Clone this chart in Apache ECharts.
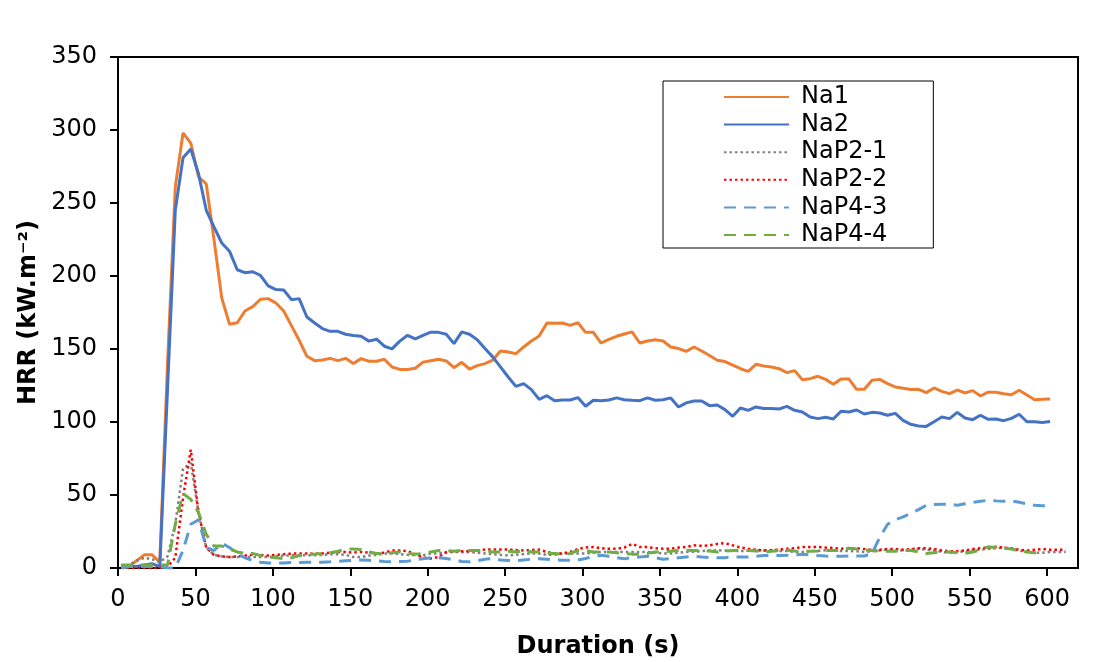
<!DOCTYPE html>
<html>
<head>
<meta charset="utf-8">
<script src="https://cdn.jsdelivr.net/npm/echarts@6/dist/echarts.min.js"></script>
<style>
  html, body { margin: 0; padding: 0; background: #fff; }
  #chart { width: 1107px; height: 662px; }
</style>
</head>
<body>
<div id="chart"></div>
<script>
// Sampling of the recorded curves: first sample at 2 s, then every 5 s
const T0 = 2, DT = 5;

const xTicks = [0, 50, 100, 150, 200, 250, 300, 350, 400, 450, 500, 550, 600];

const seriesNames = ['Na1', 'Na2', 'NaP2-1', 'NaP2-2', 'NaP4-3', 'NaP4-4'];

const na1 = [0,1,5,9,9,4,140,261,298,291,
  268,263,225,185,167,168,176,179,184,184.5,
  181.5,176,166,156,145,142,142.5,143.6,142,143.6,
  140,143.4,141.6,141.6,143,137.7,136,136,136.8,141,
  142,143,141.8,137.2,140.9,136.3,138.6,140,142.3,148.6,
  147.9,146.8,151.4,155.5,158.9,167.8,167.6,167.8,166.2,168,
  161.4,161.4,154.1,156.6,158.7,160.3,161.7,154.1,155.5,156.4,
  155.5,151.4,150.3,148.4,151.4,148.6,145.5,142.3,141.4,138.9,
  136.5,134.7,139.5,138.4,137.7,136.5,133.8,135.2,129,129.7,
  131.3,129.2,125.8,129.5,129.5,122.4,122.4,128.6,129.2,126.3,
  124,123.1,122.2,122.4,120.1,123.3,121,119.4,121.9,119.9,
  121.5,117.8,120.4,120.4,119.4,118.7,121.7,118.5,115.3,115.5,
  115.8];

const na2 = [1,1,1,2,3,1,123,245,281,287,
  270,245,233.6,222.6,217,204.3,202.3,202.9,200.4,193.2,
  190.7,190.4,183.8,184.5,171.9,167.8,164,162.1,162.1,160.1,
  159.2,158.7,155.4,156.7,151.9,150.1,155.4,159.4,156.9,159.4,
  161.5,161.4,160.1,153.7,161.7,160.1,156.4,150.3,144.6,137.7,
  130.8,124.4,126.3,122.2,115.5,118,114.6,115.1,115.1,116.7,
  110.8,114.9,114.6,115.1,116.5,115.3,114.9,114.6,116.5,114.9,
  115.3,116.5,110.3,113.1,114.4,114.4,111.2,111.6,108.5,103.9,
  109.6,108,110.3,109.2,109.2,108.9,110.7,108,106.9,103.4,
  102.3,103.2,102.1,107.4,106.9,108.2,105.5,106.6,106.2,104.6,
  105.9,101.1,98.4,97.3,97,100.2,103.4,102.3,106.6,102.7,
  101.6,104.6,101.8,102.1,100.9,102.5,105.3,100.2,100.2,99.7,
  100.4];

const nap21 = [1,2,5,7,6,4,8,30,68,72,
  38,14,9,8,7.5,7.5,7.5,7.5,7.5,7.5,
  8,8.5,8.7,8.7,8.7,8.7,9,9.5,9.5,9,
  7.5,7.5,8.5,9,9.9,9.9,9.5,9,8.7,8.7,
  9.9,10,10.5,11,11,11,10.5,10,9.5,9,
  8.7,9,9.5,10,9.9,9,9,10,9.9,9.9,
  10,10.5,11,11,11,11,11,11,11,10.5,
  10,9.9,10.5,11,11.2,11.6,12,12.1,12,11.6,
  11.6,11.8,12.1,12,11.6,11.6,11.6,11,11,11.6,
  11.6,12.1,12,11.6,11.6,11.5,11,11.5,12,12.5,
  12,12,12.5,13,12.5,12,11,10.5,11,11.5,
  12,12.5,13,13.5,14,13,12,11,10.5,10.5,
  11,11,11];

const nap22 = [0,0,0,0,0,0,1,7,48,81,
  38,14,9,8,7.5,8,8.5,9,9,8.5,
  9,9.5,9.8,10,10,9.8,10,10.5,11,11,
  10.5,11,10.5,10,10.5,12,12,11.5,9.5,7,
  6.5,7.5,11,11.5,11.5,11.5,12,12.6,12.6,12.6,
  12.6,12.3,12,12.3,12.6,11,10,9.9,11,13,
  14,14.4,13.5,13.2,13.2,14,16.5,14.4,14.4,13.5,
  13.2,13.2,14,14.4,15.5,15.2,15.5,16.5,17,15.5,
  14,13.2,12.5,12,12.3,12.6,13.2,13.5,14.4,14.4,
  14.4,14,13.7,13.2,13.5,13.5,13,12.5,12.5,13,
  13,12.5,13,13.5,13.5,13,12,11.5,11.5,12,
  13,13.5,14,14.5,14,13.5,12.5,12,12.5,13,
  12.5,12.5,12.5];

const nap43 = [0,1,1,1,1,1,0,0,12,30,
  33,14,12,17,14,10,7,5,4,3.5,
  3.5,3.5,3.7,3.8,4,4,4,4.2,4.5,4.9,
  5.3,5.5,5.3,5,4.5,4.2,4.5,4.7,5.5,6.4,
  7,7,6.5,5.5,4.5,4.2,5,6,6.4,5.5,
  5.2,5,5.5,6,6.4,6,5.5,5.3,5.3,5.5,
  6.5,8,8.7,8,7,6.4,7,7.5,8,7,
  6,6.4,7,7.5,8,7.5,7.1,7.1,7.1,7.5,
  7.5,7.5,8,8.5,8.5,8.5,8.7,9,9.4,9,
  8.5,8.2,8,8,8.2,8.2,8.2,10,21,30,
  33,35,37.5,40,42.9,43.5,43.6,43.6,43,44,
  45,45.7,46.4,46,45.7,46,45,44,43,42.7,
  42.7];

const nap44 = [2,2,2,2,2,2,2,30,51,47,
  38,23,15,15,13,11,10,10,8.5,7.5,
  7,6.4,7,8.5,9,9.5,10,10.5,11.5,13,
  13,12.6,11,9.9,10,10.5,11,10,9.5,10,
  11,12,12,11.5,12,12,12,12,11,11,
  11.5,11,12,11,11,10,9.9,9.5,10,12,
  12,11,11,11,10.5,10,9.5,9.5,10,11,
  11,11.5,12,12.1,12,11.6,11.6,11,11.6,12,
  12.1,12,11.6,11,11.5,12,12.1,11.6,11.5,11.5,
  11.6,12,12.1,12,13.5,13,12.5,12,11.4,11.4,
  11.5,12,12,11,10,10.5,11,11,10.5,10,
  11,12.5,14.5,14,13.5,13,12,11,10.5,10.5];

function pairs(vals) {
  return vals.map((v, i) => [T0 + DT * i, v]);
}

const FONT = 'DejaVu Sans';

const styles = [
  { color: '#ED7D31', width: 3, type: 'solid' },
  { color: '#4472C4', width: 3, type: 'solid' },
  { color: '#808080', width: 2.5, type: [2.5, 3] },
  { color: '#FF0000', width: 2.5, type: [2.5, 3] },
  { color: '#5B9BD5', width: 3, type: [12, 8] },
  { color: '#70AD47', width: 3, type: [12, 8] }
];
const allData = [na1, na2, nap21, nap22, nap43, nap44];

const chart = echarts.init(document.getElementById('chart'), null, { renderer: 'canvas' });

chart.setOption({
  animation: false,
  backgroundColor: '#ffffff',
  grid: {
    left: 118, right: 29, top: 57, bottom: 94,
    containLabel: false,
    outerBoundsMode: 'none',
    show: true, borderColor: '#000', borderWidth: 2, backgroundColor: 'transparent'
  },
  legend: {
    orient: 'vertical',
    left: 663, top: 81,
    width: 272,
    padding: [4, 46, 1, 60],
    itemWidth: 65,
    itemHeight: 14,
    itemGap: 3.6,
    borderColor: '#000',
    borderWidth: 1,
    backgroundColor: '#fff',
    itemStyle: { opacity: 0 },
    data: seriesNames,
    textStyle: { fontFamily: FONT, fontSize: 24, lineHeight: 24, color: '#000', padding: [0, 0, 0, 7] }
  },
  xAxis: {
    type: 'value',
    min: 0, max: 620, interval: 50,
    name: 'Duration (s)',
    nameLocation: 'middle',
    nameGap: 67,
    nameTextStyle: { fontFamily: FONT, fontSize: 24, fontWeight: 'bold', color: '#000' },
    axisLine: { show: true, lineStyle: { color: '#000', width: 2 } },
    axisTick: { show: true, length: 8, lineStyle: { color: '#000', width: 2 }, customValues: xTicks },
    axisLabel: { fontFamily: FONT, fontSize: 24, color: '#000', margin: 20, customValues: xTicks },
    splitLine: { show: false }
  },
  yAxis: {
    type: 'value',
    min: 0, max: 350, interval: 50,
    name: 'HRR (kW.m\u207B\u00B2)',
    nameLocation: 'middle',
    nameGap: 76,
    nameTextStyle: { fontFamily: FONT, fontSize: 24, fontWeight: 'bold', color: '#000' },
    axisLine: { show: true, lineStyle: { color: '#000', width: 2 } },
    axisTick: { show: true, length: 8, lineStyle: { color: '#000', width: 2 } },
    axisLabel: { fontFamily: FONT, fontSize: 24, color: '#000', margin: 21 },
    splitLine: { show: false }
  },
  series: seriesNames.map((name, i) => ({
    name: name,
    type: 'line',
    data: pairs(allData[i]),
    showSymbol: false,
    symbol: 'none',
    smooth: false,
    color: styles[i].color,
    lineStyle: { color: styles[i].color, width: styles[i].width, type: styles[i].type },
    emphasis: { disabled: true }
  }))
});
</script>
</body>
</html>
